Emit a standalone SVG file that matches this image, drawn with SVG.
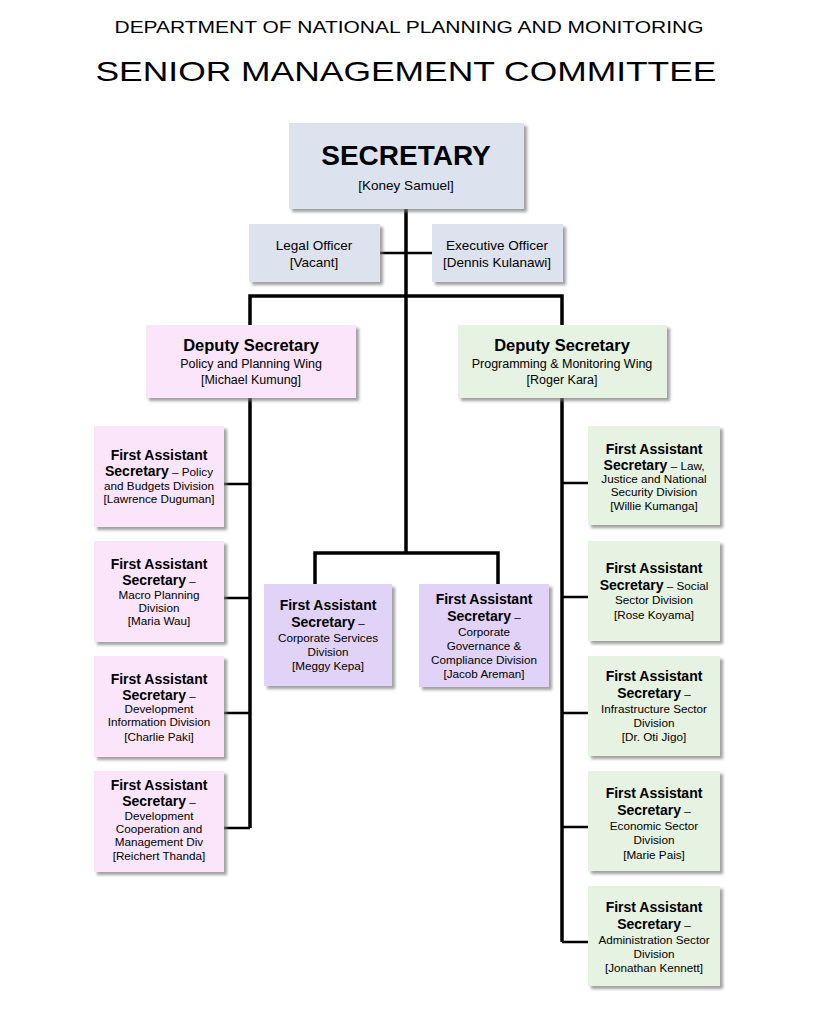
<svg xmlns="http://www.w3.org/2000/svg" width="819" height="1024" viewBox="0 0 819 1024">
<defs>
<filter id="sh" x="-10%" y="-10%" width="125%" height="125%">
<feDropShadow dx="3" dy="3" stdDeviation="1.5" flood-color="#777" flood-opacity="0.7"/>
</filter>
<style>
text{font-family:"Liberation Sans",Arial,sans-serif;fill:#000;text-anchor:middle}
.box{filter:url(#sh)}
.blue{fill:#dde3ee}
.pink{fill:#fbe5fa}
.green{fill:#e6f2e2}
.lav{fill:#e1d3f7}
.fb{font-weight:bold;font-size:14px}
.sm{font-size:11.7px}
.b{font-weight:bold}
.trunk{stroke:#000;stroke-width:3.5;fill:none}
.stub{stroke:#000;stroke-width:2.5;fill:none}
</style>
</defs>
<rect width="819" height="1024" fill="#fff"/>
<text x="409" y="33" font-size="16.5" textLength="589" lengthAdjust="spacingAndGlyphs">DEPARTMENT OF NATIONAL PLANNING AND MONITORING</text>
<text x="406" y="81" font-size="28" textLength="621" lengthAdjust="spacingAndGlyphs">SENIOR MANAGEMENT COMMITTEE</text>

<g id="connectors">
<path class="trunk" d="M406 209 V553"/>
<path class="stub" d="M380 253 H432"/>
<path class="trunk" d="M250 325 V296 H562 V325"/>
<path class="trunk" d="M250 398 V828"/>
<path class="stub" d="M224 484 H250 M224 598 H250 M224 713 H250 M224 828 H250"/>
<path class="trunk" d="M562 398 V942"/>
<path class="stub" d="M562 483 H588 M562 597 H588 M562 713 H588 M562 827 H588 M562 942 H588"/>
<path class="trunk" d="M315 584 V553 H498 V584"/>
</g>

<g id="secretary">
<rect class="box blue" x="289" y="123" width="235" height="86"/>
<text x="406" y="165" font-size="28" class="b">SECRETARY</text>
<text x="406" y="190" font-size="13.5">[Koney Samuel]</text>
</g>
<g id="legal-officer">
<rect class="box blue" x="249" y="224" width="131" height="58"/>
<text x="314" y="250" font-size="13.5">Legal Officer</text>
<text x="314" y="267" font-size="13.5">[Vacant]</text>
</g>
<g id="executive-officer">
<rect class="box blue" x="432" y="224" width="131" height="58"/>
<text x="497" y="250" font-size="13.5">Executive Officer</text>
<text x="497" y="267" font-size="13.5">[Dennis Kulanawi]</text>
</g>

<g id="deputy-policy">
<rect class="box pink" x="146" y="325" width="210" height="73"/>
<text x="251" y="351" font-size="16.5" class="b">Deputy Secretary</text>
<text x="251" y="368" font-size="12.5">Policy and Planning Wing</text>
<text x="251" y="384" font-size="12.5">[Michael Kumung]</text>
</g>
<g id="deputy-programming">
<rect class="box green" x="458" y="325" width="209" height="73"/>
<text x="562" y="351" font-size="16.5" class="b">Deputy Secretary</text>
<text x="562" y="368" font-size="12.5">Programming &amp; Monitoring Wing</text>
<text x="562" y="384" font-size="12.5">[Roger Kara]</text>
</g>

<g id="fas-policy-budgets">
<rect class="box pink" x="94" y="426" width="130" height="101"/>
<text x="159" y="460" class="fb">First Assistant</text>
<text x="159" y="476"><tspan class="fb">Secretary</tspan><tspan class="sm"> – Policy</tspan></text>
<text x="159" y="490" class="sm">and Budgets Division</text>
<text x="159" y="503" class="sm">[Lawrence Duguman]</text>
</g>
<g id="fas-macro-planning">
<rect class="box pink" x="94" y="541" width="130" height="101"/>
<text x="159" y="569" class="fb">First Assistant</text>
<text x="159" y="585"><tspan class="fb">Secretary</tspan><tspan class="sm"> –</tspan></text>
<text x="159" y="599" class="sm">Macro Planning</text>
<text x="159" y="612" class="sm">Division</text>
<text x="159" y="625" class="sm">[Maria Wau]</text>
</g>
<g id="fas-development-information">
<rect class="box pink" x="94" y="656" width="130" height="101"/>
<text x="159" y="684" class="fb">First Assistant</text>
<text x="159" y="700"><tspan class="fb">Secretary</tspan><tspan class="sm"> –</tspan></text>
<text x="159" y="713" class="sm">Development</text>
<text x="159" y="726" class="sm">Information Division</text>
<text x="159" y="741" class="sm">[Charlie Paki]</text>
</g>
<g id="fas-development-cooperation">
<rect class="box pink" x="94" y="771" width="130" height="101"/>
<text x="159" y="790" class="fb">First Assistant</text>
<text x="159" y="806"><tspan class="fb">Secretary</tspan><tspan class="sm"> –</tspan></text>
<text x="159" y="820" class="sm">Development</text>
<text x="159" y="833" class="sm">Cooperation and</text>
<text x="159" y="846" class="sm">Management Div</text>
<text x="159" y="860" class="sm">[Reichert Thanda]</text>
</g>

<g id="fas-corporate-services">
<rect class="box lav" x="264" y="584" width="128" height="102"/>
<text x="328" y="610" class="fb">First Assistant</text>
<text x="328" y="627"><tspan class="fb">Secretary</tspan><tspan class="sm"> –</tspan></text>
<text x="328" y="642" class="sm">Corporate Services</text>
<text x="328" y="656" class="sm">Division</text>
<text x="328" y="670" class="sm">[Meggy Kepa]</text>
</g>
<g id="fas-corporate-governance">
<rect class="box lav" x="419" y="584" width="130" height="103"/>
<text x="484" y="604" class="fb">First Assistant</text>
<text x="484" y="621"><tspan class="fb">Secretary</tspan><tspan class="sm"> –</tspan></text>
<text x="484" y="636" class="sm">Corporate</text>
<text x="484" y="650" class="sm">Governance &amp;</text>
<text x="484" y="664" class="sm">Compliance Division</text>
<text x="484" y="678" class="sm">[Jacob Areman]</text>
</g>

<g id="fas-law-justice">
<rect class="box green" x="588" y="426" width="132" height="99"/>
<text x="654" y="454" class="fb">First Assistant</text>
<text x="654" y="470"><tspan class="fb">Secretary</tspan><tspan class="sm"> – Law,</tspan></text>
<text x="654" y="483" class="sm">Justice and National</text>
<text x="654" y="496" class="sm">Security Division</text>
<text x="654" y="510" class="sm">[Willie Kumanga]</text>
</g>
<g id="fas-social-sector">
<rect class="box green" x="588" y="541" width="132" height="100"/>
<text x="654" y="573" class="fb">First Assistant</text>
<text x="654" y="590"><tspan class="fb">Secretary</tspan><tspan class="sm"> – Social</tspan></text>
<text x="654" y="604" class="sm">Sector Division</text>
<text x="654" y="619" class="sm">[Rose Koyama]</text>
</g>
<g id="fas-infrastructure-sector">
<rect class="box green" x="588" y="656" width="132" height="100"/>
<text x="654" y="681" class="fb">First Assistant</text>
<text x="654" y="698"><tspan class="fb">Secretary</tspan><tspan class="sm"> –</tspan></text>
<text x="654" y="713" class="sm">Infrastructure Sector</text>
<text x="654" y="727" class="sm">Division</text>
<text x="654" y="741" class="sm">[Dr. Oti Jigo]</text>
</g>
<g id="fas-economic-sector">
<rect class="box green" x="588" y="771" width="132" height="100"/>
<text x="654" y="798" class="fb">First Assistant</text>
<text x="654" y="815"><tspan class="fb">Secretary</tspan><tspan class="sm"> –</tspan></text>
<text x="654" y="830" class="sm">Economic Sector</text>
<text x="654" y="844" class="sm">Division</text>
<text x="654" y="859" class="sm">[Marie Pais]</text>
</g>
<g id="fas-administration-sector">
<rect class="box green" x="588" y="886" width="132" height="100"/>
<text x="654" y="912" class="fb">First Assistant</text>
<text x="654" y="929"><tspan class="fb">Secretary</tspan><tspan class="sm"> –</tspan></text>
<text x="654" y="944" class="sm">Administration Sector</text>
<text x="654" y="958" class="sm">Division</text>
<text x="654" y="972" class="sm">[Jonathan Kennett]</text>
</g>
</svg>
